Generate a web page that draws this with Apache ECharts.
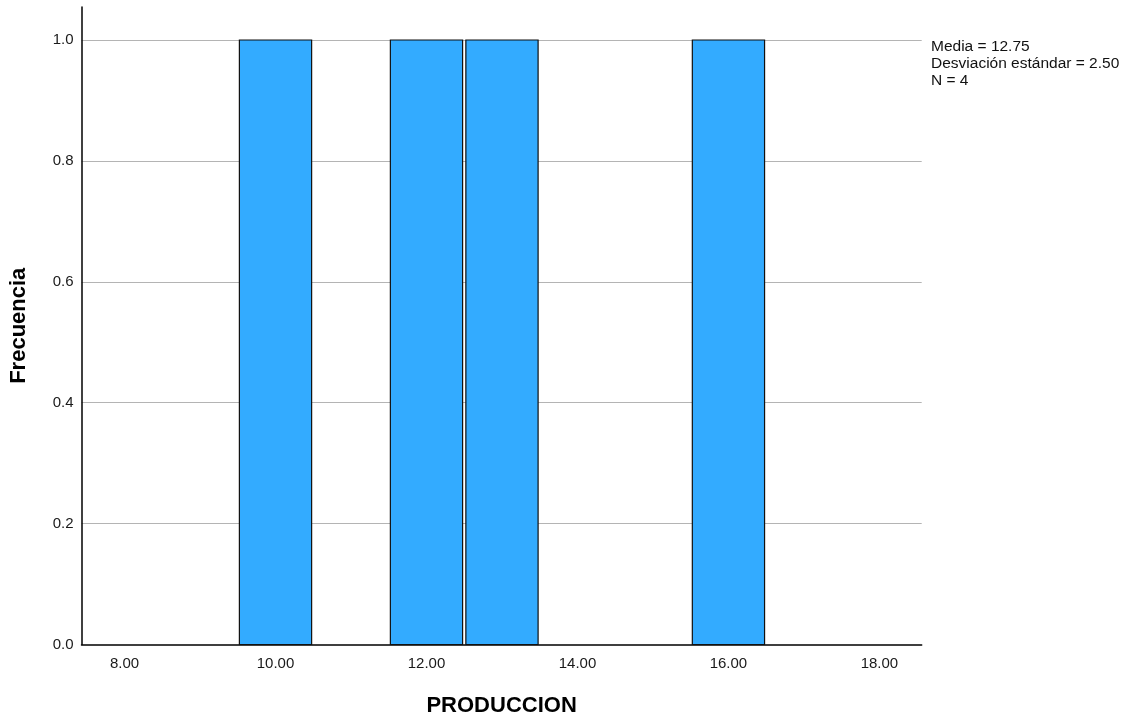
<!DOCTYPE html>
<html>
<head>
<meta charset="utf-8">
<script src="https://cdn.jsdelivr.net/npm/echarts@6/dist/echarts.min.js"></script>
<style>
html,body{margin:0;padding:0;background:#fff;}
#main{width:1131px;height:719px;}
</style>
</head>
<body>
<div id="main"></div>
<script>
// Data
const binCenters = [10, 12, 13, 16];
const frequencies = [1, 1, 1, 1];
const binWidth = 0.957;
const xTickValues = [8, 10, 12, 14, 16, 18];
const statsLines = ['Media = 12.75', 'Desviación estándar = 2.50', 'N = 4'];
const xTitle = 'PRODUCCION';
const yTitle = 'Frecuencia';

const font = '"Liberation Sans", Arial, sans-serif';
const chart = echarts.init(document.getElementById('main'));

const seriesData = binCenters.map((c, i) => [c, frequencies[i]]);

chart.setOption({
  animation: false,
  backgroundColor: '#ffffff',
  grid: { left: 81.5, right: 209.3, top: 7, bottom: 74.5, containLabel: false, outerBoundsMode: 'none' },
  xAxis: {
    type: 'value',
    min: 7.43,
    max: 18.56,
    name: xTitle,
    nameLocation: 'middle',
    nameGap: 50,
    nameTextStyle: { fontFamily: font, fontSize: 22, fontWeight: 'bold', color: '#000' },
    axisLine: { show: true, onZero: false, lineStyle: { color: '#000', width: 1.5 } },
    axisTick: { show: false },
    splitLine: { show: false },
    axisLabel: {
      customValues: xTickValues,
      formatter: v => Number(v).toFixed(2),
      fontFamily: font, fontSize: 15, color: '#1a1a1a', margin: 12
    }
  },
  yAxis: {
    type: 'value',
    min: 0,
    max: 1.0546,
    interval: 0.2,
    name: yTitle,
    nameLocation: 'middle',
    nameGap: 52,
    nameTextStyle: { fontFamily: font, fontSize: 22, fontWeight: 'bold', color: '#000' },
    axisLine: { show: true, lineStyle: { color: '#000', width: 1.5 } },
    axisTick: { show: false },
    splitLine: { show: true, showMaxLine: false, showMinLine: false, lineStyle: { color: '#b4b4b4', width: 1 } },
    axisLabel: {
      showMaxLabel: false,
      formatter: v => Number(v).toFixed(1),
      fontFamily: font, fontSize: 15, color: '#1a1a1a', margin: 8
    }
  },
  graphic: [{
    type: 'text',
    left: 931,
    top: 38,
    style: {
      text: statsLines.join('\n'),
      fontFamily: font,
      fontSize: 15.5,
      lineHeight: 17,
      fill: '#111'
    }
  }],
  series: [{
    type: 'custom',
    data: seriesData,
    renderItem: function (params, api) {
      const c = api.value(0);
      const f = api.value(1);
      const p1 = api.coord([c - binWidth / 2, f]);
      const p2 = api.coord([c + binWidth / 2, 0]);
      return {
        type: 'rect',
        shape: { x: p1[0], y: p1[1], width: p2[0] - p1[0], height: p2[1] - p1[1] },
        style: { fill: '#33abff', stroke: '#111', lineWidth: 1.2 }
      };
    },
    encode: { x: 0, y: 1 },
    z: 3
  }]
});
</script>
</body>
</html>
